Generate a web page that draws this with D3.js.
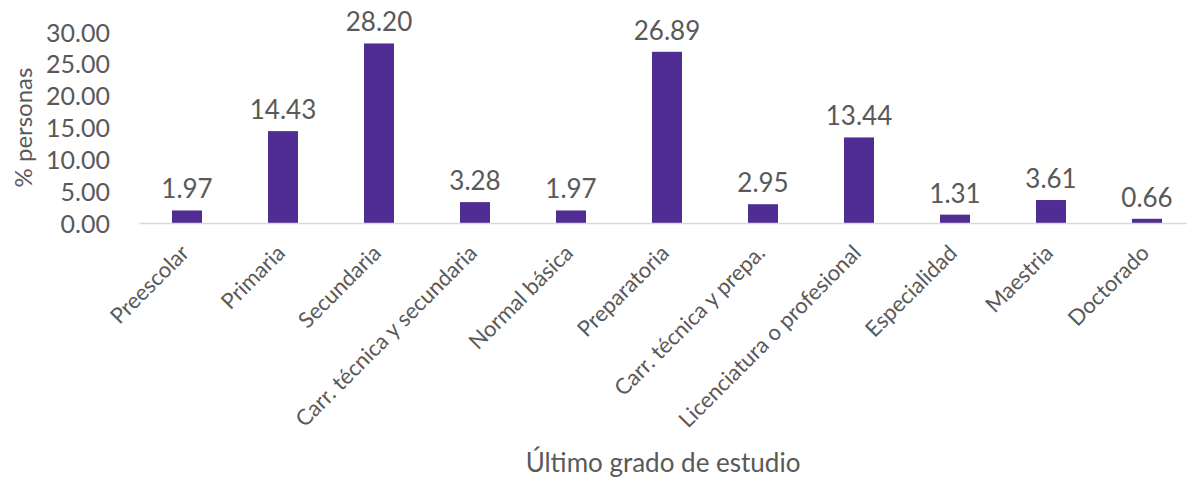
<!DOCTYPE html>
<html>
<head>
<meta charset="utf-8">
<script src="https://cdn.jsdelivr.net/npm/d3@7"></script>
<style>
  html, body { margin: 0; padding: 0; background: #fff; }
  svg { display: block; }
  text { font-family: Lato, "Open Sans", sans-serif; fill: #595959; }
</style>
</head>
<body>
<svg id="chart" width="1187" height="478"></svg>
<script>
// Último grado de estudio – porcentaje de personas
const categories = [
  "Preescolar", "Primaria", "Secundaria", "Carr. técnica y secundaria",
  "Normal básica", "Preparatoria", "Carr. técnica y prepa.",
  "Licenciatura o profesional", "Especialidad", "Maestria", "Doctorado"
];
const values = [1.97, 14.43, 28.20, 3.28, 1.97, 26.89, 2.95, 13.44, 1.31, 3.61, 0.66];
const yTicks = [0, 5, 10, 15, 20, 25, 30];
const yTitle = "% personas";
const xTitle = "Último grado de estudio";

const svg = d3.select("#chart");

const x = d3.scaleBand()
  .domain(categories)
  .range([139, 1195])
  .paddingInner(0.6875)
  .paddingOuter(0.34375);

const y = d3.scaleLinear()
  .domain([0, 30])
  .range([223, 32]);

// y axis: labels only, no line or ticks
const yAxis = svg.append("g")
  .attr("transform", "translate(138,0)")
  .call(d3.axisLeft(y).tickValues(yTicks).tickFormat(d3.format(".2f")).tickSize(0).tickPadding(28));
yAxis.select(".domain").remove();
yAxis.selectAll("text")
  .attr("font-size", 25)
  .attr("font-family", "Lato, 'Open Sans', sans-serif")
  .attr("fill", "#595959")
  .attr("dy", "0.36em");

// bars
svg.append("g")
  .selectAll("rect")
  .data(values)
  .join("rect")
  .attr("x", (d, i) => x(categories[i]))
  .attr("width", x.bandwidth())
  .attr("y", d => y(d))
  .attr("height", d => y(0) - y(d))
  .attr("fill", "#4F2D92");

// value labels
svg.append("g")
  .selectAll("text")
  .data(values)
  .join("text")
  .attr("x", (d, i) => x(categories[i]) + x.bandwidth() / 2)
  .attr("y", d => y(d) - 12)
  .attr("text-anchor", "middle")
  .attr("font-size", 26)
  .text(d => d3.format(".2f")(d));

// x axis baseline with rotated category labels
const xAxis = svg.append("g")
  .attr("transform", `translate(0,${y(0)})`)
  .call(d3.axisBottom(x).tickSize(0).tickPadding(0));
xAxis.select(".domain")
  .attr("stroke", "#d9d9d9")
  .attr("stroke-width", 1.5);
xAxis.selectAll("text")
  .attr("font-size", 22)
  .attr("font-family", "Lato, 'Open Sans', sans-serif")
  .attr("fill", "#595959")
  .attr("text-anchor", "end")
  .attr("dy", "0.35em")
  .attr("transform", "translate(-2,26) rotate(-45)");

// axis titles
svg.append("text")
  .attr("transform", `translate(24,${(y(0) + y(30)) / 2}) rotate(-90)`)
  .attr("text-anchor", "middle")
  .attr("dy", "0.35em")
  .attr("font-size", 24)
  .text(yTitle);

svg.append("text")
  .attr("x", 663)
  .attr("y", 463)
  .attr("text-anchor", "middle")
  .attr("dy", "0.35em")
  .attr("font-size", 26)
  .text(xTitle);
</script>
</body>
</html>
